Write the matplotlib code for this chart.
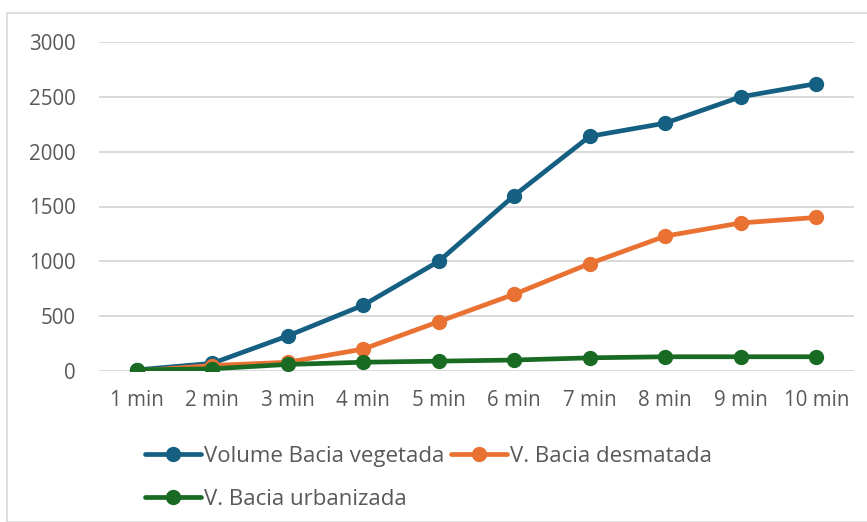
import matplotlib.pyplot as plt
from matplotlib.patches import Rectangle

categories = ['1 min', '2 min', '3 min', '4 min', '5 min',
              '6 min', '7 min', '8 min', '9 min', '10 min']
vegetada = [10, 70, 320, 600, 1000, 1600, 2140, 2260, 2500, 2620]
desmatada = [0, 50, 80, 200, 450, 700, 980, 1230, 1350, 1400]
urbanizada = [10, 20, 60, 80, 90, 100, 120, 130, 130, 130]
yticks = [0, 500, 1000, 1500, 2000, 2500, 3000]

plt.rcParams['font.family'] = ['Open Sans', 'DejaVu Sans']
txt = '#595959'
grid = '#D9D9D9'

fig = plt.figure(figsize=(8.67, 5.22), dpi=100)
fig.patches.append(Rectangle((7 / 867, 0), 1, 1 - 13 / 522, transform=fig.transFigure,
                             facecolor='none', edgecolor=grid, linewidth=1.2))

ax = fig.add_axes([99 / 867, 1 - 371 / 522, 755 / 867, 329 / 522])
x = range(len(categories))
kw = dict(linewidth=3.4, marker='o', markersize=10, solid_capstyle='round')
l1, = ax.plot(x, vegetada, color='#156082', label='Volume Bacia vegetada', zorder=3, **kw)
l2, = ax.plot(x, desmatada, color='#E97132', label='V. Bacia desmatada', zorder=4, **kw)
l3, = ax.plot(x, urbanizada, color='#196B24', label='V. Bacia urbanizada', zorder=5, **kw)

ax.set_xlim(-0.5, len(categories) - 0.5)
ax.set_ylim(0, 3000)
ax.set_yticks(yticks)
ax.set_xticks(list(x))
ax.set_xticklabels(categories)
ax.tick_params(length=0, labelsize=14.8, labelcolor=txt)
ax.tick_params(axis='y', pad=17)
ax.tick_params(axis='x', pad=14)
for s in ax.spines.values():
    s.set_visible(False)
ax.yaxis.grid(True, color=grid, linewidth=1.4)
ax.set_axisbelow(True)
ax.patch.set_visible(False)

leg = fig.legend([l1, l3, l2], [l1.get_label(), l3.get_label(), l2.get_label()],
                 ncol=2, loc='upper left', bbox_to_anchor=(145 / 867, 1 - 446 / 522),
                 frameon=False, fontsize=16, handlelength=2.5, handletextpad=0.14,
                 columnspacing=0.32, labelspacing=1.0, borderaxespad=0, borderpad=0)
for t in leg.get_texts():
    t.set_color(txt)

fig.savefig('out.png', dpi=100)
